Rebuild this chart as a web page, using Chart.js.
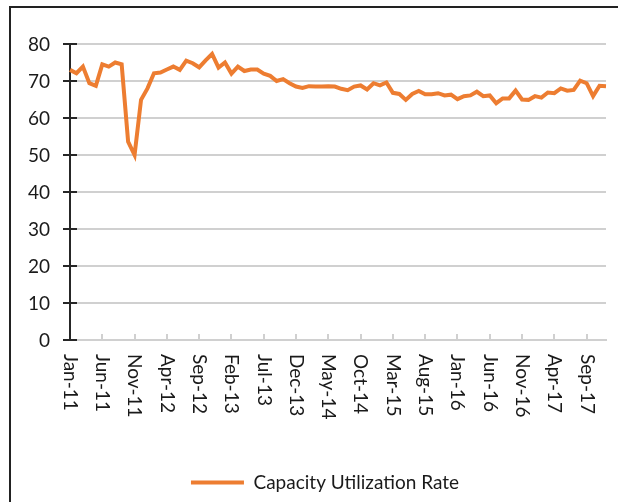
<!DOCTYPE html>
<html>
<head>
<meta charset="utf-8">
<script src="https://cdn.jsdelivr.net/npm/chart.js@4.4.1/dist/chart.umd.min.js"></script>
<style>
    html, body { margin: 0; padding: 0; background: #fff; overflow: hidden; }
    #wrap { position: relative; width: 618px; height: 502px; }
    #frame { position: absolute; left: 9px; top: 6px; width: 700px; height: 600px;
             border: 2px solid #222; pointer-events: none; }
</style>
</head>
<body>
<div id="wrap">
    <canvas id="capacity" width="618" height="502"></canvas>
    <div id="frame"></div>
</div>
<script>
// categories: monthly, Jan-11 .. Dec-17
const monthNames = ['Jan', 'Feb', 'Mar', 'Apr', 'May', 'Jun', 'Jul', 'Aug', 'Sep', 'Oct', 'Nov', 'Dec'];
const yearLabels = ['11', '12', '13', '14', '15', '16', '17'];
const labelEvery = 5;

// capacity utilization rate (%)
const utilization = [
    73.0, 72.1, 73.9, 69.4, 68.7, 74.5, 73.9, 75.0, 74.5, 53.6, 50.0, 64.9,
    68.0, 72.1, 72.3, 73.1, 73.9, 73.0, 75.5, 74.8, 73.7, 75.6, 77.3, 73.6,
    75.0, 72.0, 73.9, 72.7, 73.1, 73.1, 72.0, 71.4, 70.0, 70.5, 69.4, 68.5,
    68.1, 68.6, 68.5, 68.5, 68.6, 68.5, 67.9, 67.5, 68.5, 68.8, 67.7, 69.4,
    68.8, 69.6, 66.8, 66.5, 64.9, 66.5, 67.3, 66.4, 66.4, 66.7, 66.1, 66.3,
    65.1, 65.9, 66.1, 67.1, 65.9, 66.1, 64.0, 65.3, 65.3, 67.4, 65.0, 64.9,
    65.9, 65.5, 66.9, 66.7, 68.0, 67.4, 67.6, 70.1, 69.4, 65.9, 68.7, 68.6
];

const yTicks = { min: 0, max: 80, step: 10 };

const months = [];
yearLabels.forEach(function (yr) {
    monthNames.forEach(function (m) { months.push(m + '-' + yr); });
});

const fontFamily = 'Lato, "Open Sans", sans-serif';
const fontSize = 19;

// y axis cross ticks + labels, x axis inner ticks and clockwise rotated month labels
const axisDecor = {
    id: 'axisDecor',
    beforeDatasetsDraw(chart) {
        const ctx = chart.ctx;
        const xs = chart.scales.x;
        const ys = chart.scales.y;
        ctx.save();
        ctx.lineWidth = 2;
        ctx.strokeStyle = '#d0d0d0';
        months.forEach(function (m, i) {
            if (i % labelEvery !== 0 || i === 0) return;
            const px = Math.round(xs.getPixelForValue(i));
            ctx.beginPath();
            ctx.moveTo(px, ys.bottom);
            ctx.lineTo(px, ys.bottom - 6);
            ctx.stroke();
        });
        ctx.strokeStyle = '#262626';
        ys.ticks.forEach(function (t) {
            const py = Math.round(ys.getPixelForValue(t.value));
            ctx.beginPath();
            ctx.moveTo(xs.left - 7, py);
            ctx.lineTo(xs.left + 7, py);
            ctx.stroke();
        });
        ctx.restore();
    },
    afterDraw(chart) {
        const ctx = chart.ctx;
        const xs = chart.scales.x;
        const ys = chart.scales.y;
        ctx.save();
        ctx.fillStyle = '#1a1a1a';
        ctx.font = fontSize + 'px ' + fontFamily;
        ctx.textAlign = 'right';
        ctx.textBaseline = 'middle';
        ys.ticks.forEach(function (t) {
            ctx.fillText(String(t.value), xs.left - 20, ys.getPixelForValue(t.value) + 1);
        });
        ctx.textAlign = 'left';
        months.forEach(function (m, i) {
            if (i % labelEvery !== 0) return;
            const px = xs.getPixelForValue(i);
            ctx.save();
            ctx.translate(px, ys.bottom + 14);
            ctx.rotate(Math.PI / 2);
            ctx.fillText(m, 0, 0);
            ctx.restore();
        });
        ctx.restore();
    }
};

const capCtx = document.getElementById('capacity').getContext('2d');
const capChart = new Chart(capCtx, {
    type: 'line',
    data: {
        labels: months,
        datasets: [{
            label: 'Capacity Utilization Rate',
            data: utilization,
            borderColor: '#ed7d31',
            backgroundColor: '#ed7d31',
            borderWidth: 4,
            pointRadius: 0,
            tension: 0,
            fill: false
        }]
    },
    options: {
        responsive: false,
        animation: false,
        layout: {
            padding: { left: 44, right: 12, top: 44, bottom: 0 }
        },
        plugins: {
            legend: {
                position: 'bottom',
                labels: {
                    usePointStyle: true,
                    pointStyle: 'line',
                    pointStyleWidth: 53,
                    boxHeight: fontSize,
                    color: '#1a1a1a',
                    font: { family: fontFamily, size: fontSize }
                }
            },
            tooltip: { enabled: false }
        },
        scales: {
            x: {
                offset: false,
                ticks: { display: false },
                grid: { display: false },
                border: { color: '#d0d0d0', width: 2 },
                afterFit: function (scale) { scale.height = 123; }
            },
            y: {
                min: yTicks.min,
                max: yTicks.max,
                ticks: { display: false, stepSize: yTicks.step },
                grid: { color: '#d0d0d0', lineWidth: 2, drawTicks: false },
                border: { color: '#262626', width: 2 },
                afterFit: function (scale) { scale.width = 26; }
            }
        }
    },
    plugins: [axisDecor]
});
</script>
</body>
</html>
